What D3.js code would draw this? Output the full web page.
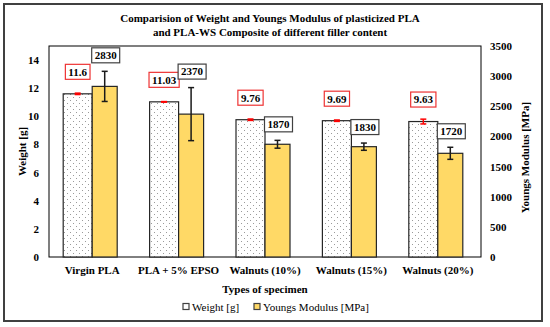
<!DOCTYPE html>
<html>
<head>
<meta charset="utf-8">
<script src="https://cdn.jsdelivr.net/npm/d3@7"></script>
<style>
  body { margin: 0; background: #fff; }
  svg text { font-family: "Liberation Serif", "Times New Roman", serif; }
</style>
</head>
<body>
<div id="chart"></div>
<script>
const categories = ["Virgin PLA", "PLA + 5% EPSO", "Walnuts (10%)", "Walnuts (15%)", "Walnuts (20%)"];
const weight = [11.6, 11.03, 9.76, 9.69, 9.63];
const weightErr = [0.05, 0.02, 0.05, 0.05, 0.17];
const modulus = [2830, 2370, 1870, 1830, 1720];
const modulusErr = [250, 440, 65, 60, 100];
const weightTicks = [0, 2, 4, 6, 8, 10, 12, 14];
const modulusTicks = [0, 500, 1000, 1500, 2000, 2500, 3000, 3500];

const width = 550;
const height = 327;
const plot = { left: 49, right: 481, top: 46, bottom: 257 };
const wBar = 29;
const yBar = 25;
const gold = "#FFD966";

const svg = d3.select("#chart").append("svg")
  .attr("width", width)
  .attr("height", height);

// dotted fill for the weight bars
const defs = svg.append("defs");
const pat = defs.append("pattern")
  .attr("id", "dots")
  .attr("patternUnits", "userSpaceOnUse")
  .attr("width", 6)
  .attr("height", 6);
pat.append("rect").attr("width", 6).attr("height", 6).attr("fill", "#fff");
pat.append("rect").attr("x", 1).attr("y", 1).attr("width", 1).attr("height", 1).attr("fill", "#9a9a9a");
pat.append("rect").attr("x", 4).attr("y", 4).attr("width", 1).attr("height", 1).attr("fill", "#9a9a9a");

// outer frame
svg.append("rect")
  .attr("x", 4).attr("y", 4)
  .attr("width", 538).attr("height", 317)
  .attr("fill", "#fff")
  .attr("stroke", "#404040")
  .attr("stroke-width", 2);

const x = d3.scaleBand()
  .domain(categories)
  .range([plot.left, plot.right])
  .padding(0);

const yL = d3.scaleLinear().domain([0, 15]).range([plot.bottom, plot.top]);
const yR = d3.scaleLinear().domain([0, 3500]).range([plot.bottom, plot.top]);

const center = d => x(d) + x.bandwidth() / 2;

// title
svg.append("text")
  .attr("x", 270).attr("y", 22)
  .attr("text-anchor", "middle")
  .attr("font-size", 11).attr("font-weight", "bold")
  .selectAll("tspan")
  .data(["Comparision of Weight and Youngs Modulus of plasticized PLA",
         "and PLA-WS Composite of different filler content"])
  .join("tspan")
  .attr("x", 270)
  .attr("dy", (d, i) => i ? 14 : 0)
  .text(d => d);

// plot box
svg.append("rect")
  .attr("x", plot.left).attr("y", plot.top)
  .attr("width", plot.right - plot.left).attr("height", plot.bottom - plot.top)
  .attr("fill", "none")
  .attr("stroke", "#000")
  .attr("stroke-width", 1);

// axes
const axisL = svg.append("g")
  .attr("transform", `translate(${plot.left},0)`)
  .call(d3.axisLeft(yL).tickValues(weightTicks).tickSize(0).tickPadding(10));
const axisR = svg.append("g")
  .attr("transform", `translate(${plot.right},0)`)
  .call(d3.axisRight(yR).tickValues(modulusTicks).tickFormat(d3.format("d")).tickSize(0).tickPadding(9));
const axisB = svg.append("g")
  .attr("transform", `translate(0,${plot.bottom})`)
  .call(d3.axisBottom(x).tickSize(0).tickPadding(9));

[axisL, axisR, axisB].forEach(g => {
  g.attr("font-family", null);
  g.select(".domain").remove();
  g.selectAll("text")
    .attr("font-size", 11)
    .attr("font-weight", "bold")
    .attr("fill", "#000");
});

// bars
const groups = svg.append("g").selectAll("g")
  .data(categories)
  .join("g");

groups.append("rect")
  .attr("x", d => center(d) - wBar)
  .attr("y", (d, i) => yL(weight[i]))
  .attr("width", wBar)
  .attr("height", (d, i) => yL(0) - yL(weight[i]))
  .attr("fill", "url(#dots)")
  .attr("stroke", "#262626")
  .attr("stroke-width", 1.2);

groups.append("rect")
  .attr("x", d => center(d))
  .attr("y", (d, i) => yR(modulus[i]))
  .attr("width", yBar)
  .attr("height", (d, i) => yR(0) - yR(modulus[i]))
  .attr("fill", gold)
  .attr("stroke", "#262626")
  .attr("stroke-width", 1.2);

// error bars
function errBar(g, cx, yTop, yBot, color) {
  g.append("line").attr("x1", cx).attr("x2", cx).attr("y1", yTop).attr("y2", yBot);
  g.append("line").attr("x1", cx - 3).attr("x2", cx + 3).attr("y1", yTop).attr("y2", yTop);
  g.append("line").attr("x1", cx - 3).attr("x2", cx + 3).attr("y1", yBot).attr("y2", yBot);
  g.selectAll("line").attr("stroke", color).attr("stroke-width", 1.5);
}

groups.each(function (d, i) {
  const g = d3.select(this);
  errBar(g.append("g"), center(d) - wBar / 2,
    yL(weight[i] + weightErr[i]), yL(weight[i] - weightErr[i]), "#ff0000");
  errBar(g.append("g"), center(d) + yBar / 2,
    yR(modulus[i] + modulusErr[i]), yR(modulus[i] - modulusErr[i]), "#1a1a1a");
});

// value labels in boxes
function boxLabel(g, cx, cy, label, stroke) {
  const t = g.append("text")
    .attr("x", cx).attr("y", cy)
    .attr("dy", "0.35em")
    .attr("text-anchor", "middle")
    .attr("font-size", 11).attr("font-weight", "bold")
    .text(label);
  const w = t.node().getComputedTextLength() + 6;
  g.insert("rect", "text")
    .attr("x", cx - w / 2).attr("y", cy - 7.5)
    .attr("width", w).attr("height", 15)
    .attr("fill", "#fff")
    .attr("stroke", stroke)
    .attr("stroke-width", 1.2);
}

groups.each(function (d, i) {
  const g = d3.select(this);
  boxLabel(g.append("g"), center(d) - wBar / 2,
    yL(weight[i]) - 22, String(weight[i]), "#ee3333");
  boxLabel(g.append("g"), center(d) + yBar / 2 + 1,
    yR(modulus[i] + modulusErr[i]) - 16, String(modulus[i]), "#404040");
});

// axis titles
svg.append("text")
  .attr("transform", `translate(26,${(plot.top + plot.bottom) / 2}) rotate(-90)`)
  .attr("text-anchor", "middle")
  .attr("font-size", 11).attr("font-weight", "bold")
  .text("Weight [g]");

svg.append("text")
  .attr("transform", `translate(529,${(plot.top + plot.bottom) / 2 + 6}) rotate(-90)`)
  .attr("text-anchor", "middle")
  .attr("font-size", 11).attr("font-weight", "bold")
  .text("Youngs Modulus [MPa]");

svg.append("text")
  .attr("x", 265).attr("y", 293)
  .attr("text-anchor", "middle")
  .attr("font-size", 11).attr("font-weight", "bold")
  .text("Types of specimen");

// legend
const legendItems = [
  { name: "Weight [g]", fill: "#fff", x: 183 },
  { name: "Youngs Modulus [MPa]", fill: gold, x: 254 }
];
const lg = svg.append("g").selectAll("g")
  .data(legendItems)
  .join("g")
  .attr("transform", d => `translate(${d.x},307)`);
lg.append("rect")
  .attr("x", 0).attr("y", -3.5)
  .attr("width", 6).attr("height", 6)
  .attr("fill", d => d.fill)
  .attr("stroke", "#404040")
  .attr("stroke-width", 1.2);
lg.append("text")
  .attr("x", 9).attr("dy", "0.35em")
  .attr("font-size", 11)
  .text(d => d.name);
</script>
</body>
</html>
